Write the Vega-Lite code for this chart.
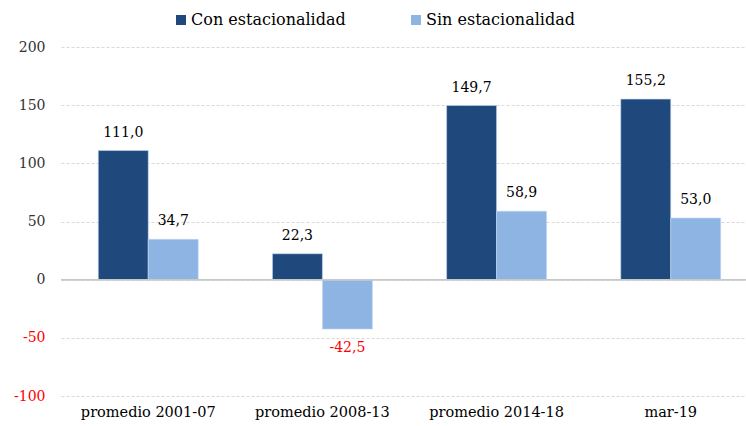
{
  "$schema": "https://vega.github.io/schema/vega-lite/v6.json",
  "autosize": {"type": "none"},
  "padding": {"left": 61, "top": 47, "right": -12, "bottom": 30},
  "width": 697,
  "height": 349,
  "config": {
    "locale": {"number": {"decimal": ",", "thousands": ".", "grouping": [3], "currency": ["$", ""], "minus": "-"}},
    "font": "DejaVu Serif",
    "view": {"stroke": null}
  },
  "data": {
    "values": [
      {"periodo": "promedio 2001-07", "serie": "Con estacionalidad", "valor": 111.0},
      {"periodo": "promedio 2001-07", "serie": "Sin estacionalidad", "valor": 34.7},
      {"periodo": "promedio 2008-13", "serie": "Con estacionalidad", "valor": 22.3},
      {"periodo": "promedio 2008-13", "serie": "Sin estacionalidad", "valor": -42.5},
      {"periodo": "promedio 2014-18", "serie": "Con estacionalidad", "valor": 149.7},
      {"periodo": "promedio 2014-18", "serie": "Sin estacionalidad", "valor": 58.9},
      {"periodo": "mar-19", "serie": "Con estacionalidad", "valor": 155.2},
      {"periodo": "mar-19", "serie": "Sin estacionalidad", "valor": 53.0}
    ]
  },
  "encoding": {
    "x": {
      "field": "periodo", "type": "nominal", "sort": null,
      "scale": {"paddingInner": 0.426, "paddingOuter": 0.214},
      "axis": {"title": null, "labelAngle": 0, "domain": false, "ticks": false, "labelPadding": 9, "labelFontSize": 14.5, "labelColor": "#000000", "labelFont": "DejaVu Serif"}
    },
    "xOffset": {
      "field": "serie", "type": "nominal", "sort": ["Con estacionalidad", "Sin estacionalidad"],
      "scale": {"paddingInner": 0, "paddingOuter": 0}
    },
    "y": {
      "field": "valor", "type": "quantitative",
      "scale": {"domain": [-100, 200], "nice": false, "zero": false},
      "axis": {
        "title": null, "values": [-100, -50, 0, 50, 100, 150, 200], "format": "d",
        "domain": false, "ticks": false, "labelPadding": 16, "labelFontSize": 14, "labelFont": "DejaVu Serif",
        "labelColor": {"condition": {"test": "datum.value < 0", "value": "#ff0000"}, "value": "#333333"},
        "grid": true, "gridColor": "#d9d9d9", "gridDash": [3, 2], "gridWidth": 1
      }
    }
  },
  "layer": [
    {
      "mark": {"type": "bar", "stroke": "#c6d9f1", "strokeWidth": 0.6},
      "encoding": {
        "color": {
          "field": "serie", "type": "nominal",
          "scale": {"domain": ["Con estacionalidad", "Sin estacionalidad"], "range": ["#1F497D", "#8DB4E2"]},
          "legend": {
            "title": null, "orient": "none", "legendX": 112, "legendY": -35, "direction": "horizontal",
            "symbolType": "square", "symbolSize": 100, "symbolStrokeWidth": 0,
            "labelFontSize": 16, "labelFont": "DejaVu Serif", "labelColor": "#000000",
            "labelOffset": 2, "columnPadding": 62
          }
        }
      }
    },
    {
      "mark": {"type": "rule", "color": "#c8c8c8", "strokeWidth": 1},
      "encoding": {"y": {"datum": 0}, "x": {"value": 0}, "x2": {"value": 697}, "xOffset": null}
    },
    {
      "transform": [{"filter": "datum.valor >= 0"}],
      "mark": {"type": "text", "baseline": "alphabetic", "dy": -14, "fontSize": 14, "color": "#000000", "font": "DejaVu Serif"},
      "encoding": {"text": {"field": "valor", "type": "quantitative", "format": ".1f"}}
    },
    {
      "transform": [{"filter": "datum.valor < 0"}],
      "mark": {"type": "text", "baseline": "top", "dy": 12, "fontSize": 14, "color": "#ff0000", "font": "DejaVu Serif"},
      "encoding": {"text": {"field": "valor", "type": "quantitative", "format": ".1f"}}
    }
  ]
}
